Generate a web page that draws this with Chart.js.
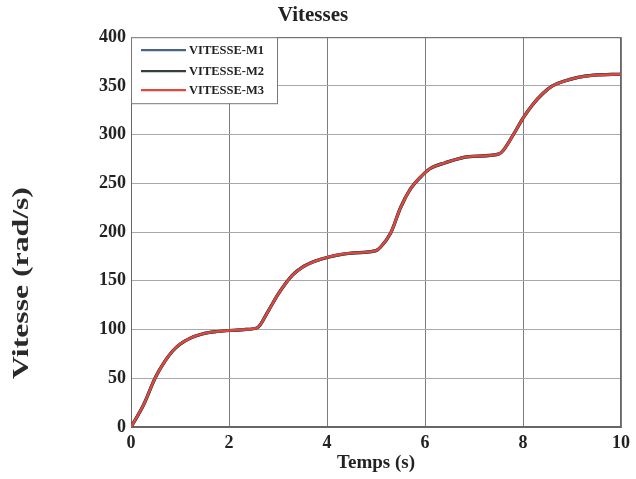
<!DOCTYPE html>
<html>
<head>
<meta charset="utf-8">
<script src="https://cdn.jsdelivr.net/npm/chart.js@4"></script>
<style>
  html, body { margin: 0; padding: 0; background: #fff; }
  #wrap { width: 636px; height: 479px; position: relative; }
</style>
</head>
<body>
<div id="wrap"><canvas id="c" width="636" height="479"></canvas></div>
<script>
// ---- Data ----
const temps = [0, 0.25, 0.5, 0.7, 0.85, 1.0, 1.2, 1.45, 1.75, 2.0, 2.3, 2.58, 2.8, 3.0, 3.15, 3.3, 3.5, 3.75, 4.0, 4.5, 5.0, 5.1, 5.3, 5.5, 5.7, 5.9, 6.1, 6.4, 6.9, 7.5, 7.6, 7.85, 8.0, 8.2, 8.4, 8.6, 8.85, 9.1, 9.45, 10];
const vitesseM1 = [0, 22, 51, 68, 78, 85, 91, 95.5, 98, 99, 100, 102, 119, 136, 147, 156, 164, 170, 174, 178.5, 181, 185, 199, 225, 244, 256, 265, 271, 277.5, 280, 284, 304, 317, 331, 342, 350, 355, 358.5, 361, 362];
const vitesseM2 = [0, 22, 51, 68, 78, 85, 91, 95.5, 98, 99, 100, 102, 119, 136, 147, 156, 164, 170, 174, 178.5, 181, 185, 199, 225, 244, 256, 265, 271, 277.5, 280, 284, 304, 317, 331, 342, 350, 355, 358.5, 361, 362];
const vitesseM3 = [0, 22, 51, 68, 78, 85, 91, 95.5, 98, 99, 100, 102, 119, 136, 147, 156, 164, 170, 174, 178.5, 181, 185, 199, 225, 244, 256, 265, 271, 277.5, 280, 284, 304, 317, 331, 342, 350, 355, 358.5, 361, 362];
const seriesLabels = ['VITESSE-M1', 'VITESSE-M2', 'VITESSE-M3'];
const seriesColors = ['#4b6483', '#363e3f', '#e0473d'];
const chartTitle = 'Vitesses';
const xTitle = 'Temps (s)';
const yTitle = 'Vitesse (rad/s)';

const FONT = "'Liberation Serif', 'Times New Roman', serif";

function pts(v) { return temps.map((t, i) => ({ x: t, y: v[i] })); }

const boxPlugin = {
  id: 'boxPlugin',
  beforeDatasetsDraw(chart) {
    const a = chart.chartArea, ctx = chart.ctx;
    ctx.save();
    ctx.strokeStyle = '#666';
    ctx.lineWidth = 1;
    ctx.strokeRect(a.left + 0.5, a.top + 0.5, a.right - a.left - 1, a.bottom - a.top - 1);
    ctx.restore();
  },
  afterDraw(chart) {
    const a = chart.chartArea, ctx = chart.ctx;
    ctx.save();
    // legend box inside plot, top-left
    const bx = a.left, by = a.top, bw = 146, bh = 66;
    ctx.fillStyle = '#fff';
    ctx.fillRect(bx, by, bw, bh);
    ctx.strokeStyle = '#777';
    ctx.lineWidth = 1;
    ctx.strokeRect(bx + 0.5, by + 0.5, bw, bh);
    ctx.font = 'bold 12.5px ' + FONT;
    ctx.textBaseline = 'middle';
    ctx.textAlign = 'left';
    const rows = [by + 13, by + 34, by + 53];
    chart.data.datasets.forEach((ds, i) => {
      const y = rows[i];
      ctx.strokeStyle = ds.borderColor;
      ctx.lineWidth = 2.2;
      ctx.beginPath();
      ctx.moveTo(bx + 10, y);
      ctx.lineTo(bx + 55, y);
      ctx.stroke();
      ctx.fillStyle = '#222';
      ctx.fillText(ds.label, bx + 58, y + 1);
    });
    // y-axis title
    ctx.translate(22, 283);
    ctx.rotate(-Math.PI / 2);
    ctx.scale(1.38, 1);
    ctx.font = 'bold 23px ' + FONT;
    ctx.textAlign = 'center';
    ctx.textBaseline = 'middle';
    ctx.fillStyle = '#2a2a2a';
    ctx.fillText(yTitle, 0, 0);
    ctx.restore();
  }
};

new Chart(document.getElementById('c'), {
  type: 'line',
  data: {
    datasets: [
      { label: seriesLabels[0], data: pts(vitesseM1), borderColor: seriesColors[0], borderWidth: 3.2, pointRadius: 0, cubicInterpolationMode: 'monotone', order: 2 },
      { label: seriesLabels[1], data: pts(vitesseM2), borderColor: seriesColors[1], borderWidth: 3.2, pointRadius: 0, cubicInterpolationMode: 'monotone', order: 1 },
      { label: seriesLabels[2], data: pts(vitesseM3), borderColor: seriesColors[2], borderWidth: 2.4, pointRadius: 0, cubicInterpolationMode: 'monotone', order: 0 }
    ]
  },
  options: {
    responsive: false,
    animation: false,
    layout: { padding: { left: 0, right: 10, top: 0, bottom: 0 } },
    plugins: {
      legend: { display: false },
      tooltip: { enabled: false },
      title: {
        display: true, text: chartTitle, color: '#222',
        font: { family: FONT, size: 21, weight: 'bold' },
        padding: { top: 3, bottom: 9 }
      }
    },
    scales: {
      x: {
        type: 'linear', min: 0, max: 10,
        ticks: { stepSize: 2, color: '#222', padding: 6, font: { family: FONT, size: 18, weight: 'bold' } },
        grid: { color: '#7c7c7c', drawTicks: false },
        border: { color: '#666' },
        title: { display: true, text: xTitle, color: '#222', padding: { top: 0, bottom: 5 }, font: { family: FONT, size: 19, weight: 'bold' } },
        afterFit(s) { s.height = 52; }
      },
      y: {
        type: 'linear', min: 0, max: 400,
        ticks: { stepSize: 50, color: '#222', padding: 5, font: { family: FONT, size: 18, weight: 'bold' } },
        grid: { color: '#a8a8a8', drawTicks: false },
        border: { color: '#666' },
        afterFit(s) { s.width = 131; }
      }
    }
  },
  plugins: [boxPlugin]
});
</script>
</body>
</html>
